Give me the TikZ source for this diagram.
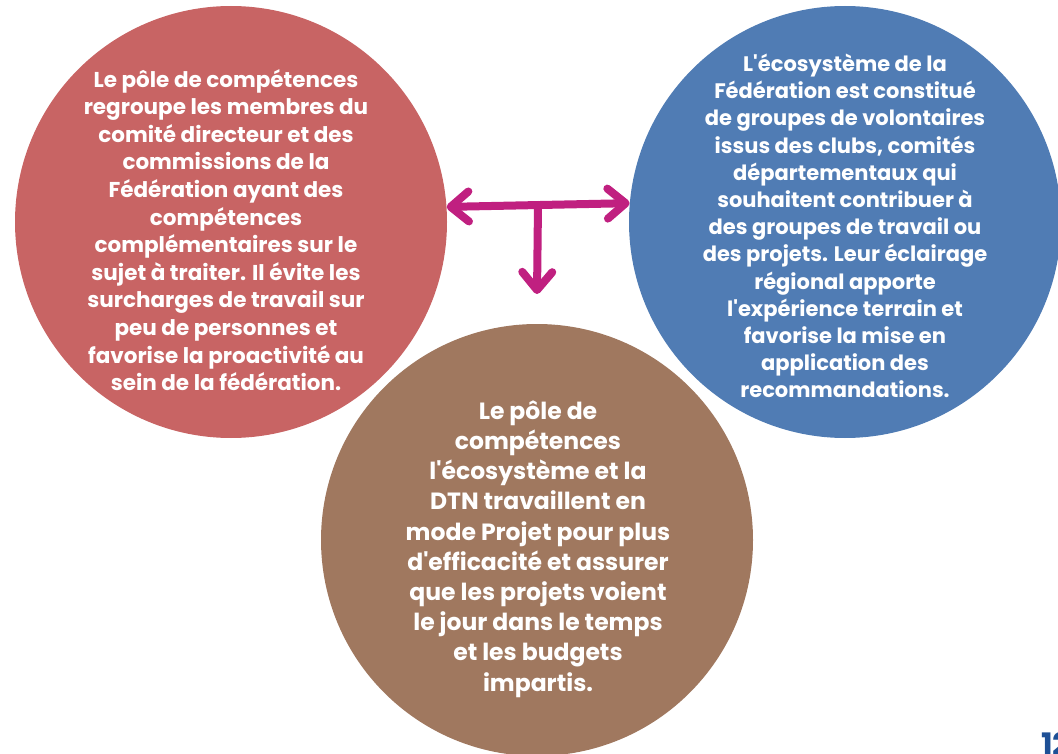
\documentclass[tikz,border=0pt]{standalone}
\usepackage{fontspec}
\newfontfamily\poppins{Poppins}
\usetikzlibrary{arrows.meta}

\definecolor{rouge}{RGB}{200,100,100}
\definecolor{bleu}{RGB}{80,124,180}
\definecolor{brun}{RGB}{160,120,95}
\definecolor{violet}{RGB}{192,32,128}
\definecolor{page}{RGB}{30,80,150}

\begin{document}
\begin{tikzpicture}[x=1pt,y=-1pt,
	bulle/.style={circle,fill=#1,minimum size=432pt,inner sep=0pt},
	texte/.style 2 args={text=white,align=center,font=\poppins\bfseries\fontsize{#1}{#2}\selectfont},
	fleche/.style={draw=violet,line width=8pt,line cap=round,
		>={Straight Barb[length=18pt,width=30pt,line cap=round,line join=round]}}]

	\useasboundingbox (0,0) rectangle (1058,754);

	% circles
	\node[bulle=rouge] (pole) at (231,222) {};
	\node[bulle=bleu] (eco) at (845,222) {};
	\node[bulle=brun] (projet) at (537,540) {};

	% texts
	\node[texte={21.5}{27.6}] (poletxt) at (226,230) {Le pôle de compétences\\regroupe les membres du\\comité directeur et des\\commissions de la\\Fédération ayant des\\compétences\\complémentaires sur le\\sujet à traiter. Il évite les\\surcharges de travail sur\\peu de personnes et\\favorise la proactivité au\\sein de la fédération.};
	\node[texte={21}{27.2}] (ecotxt) at (845,226) {L'écosystème de la\\Fédération est constitué\\de groupes de volontaires\\issus des clubs, comités\\départementaux qui\\souhaitent contribuer à\\des groupes de travail ou\\des projets. Leur éclairage\\régional apporte\\l'expérience terrain et\\favorise la mise en\\application des\\recommandations.};
	\node[texte={23.5}{30.2}] (projettxt) at (538,549) {Le pôle de\\compétences\\l'écosystème et la\\DTN travaillent en\\mode Projet pour plus\\d'efficacité et assurer\\que les projets voient\\le jour dans le temps\\et les budgets\\impartis.};

	% arrows
	\coordinate (milieu) at (538,205);
	\coordinate (bas) at (537,294);
	\draw[fleche,<->] (pole.4.5) -- (eco.175.5);
	\draw[fleche,->] (milieu) -- (bas);

	% page number
	\node[anchor=base west,inner sep=0pt,text=page,font=\poppins\bfseries\fontsize{31}{31}\selectfont] (numero) at (1041,755) {12};

\end{tikzpicture}
\end{document}
